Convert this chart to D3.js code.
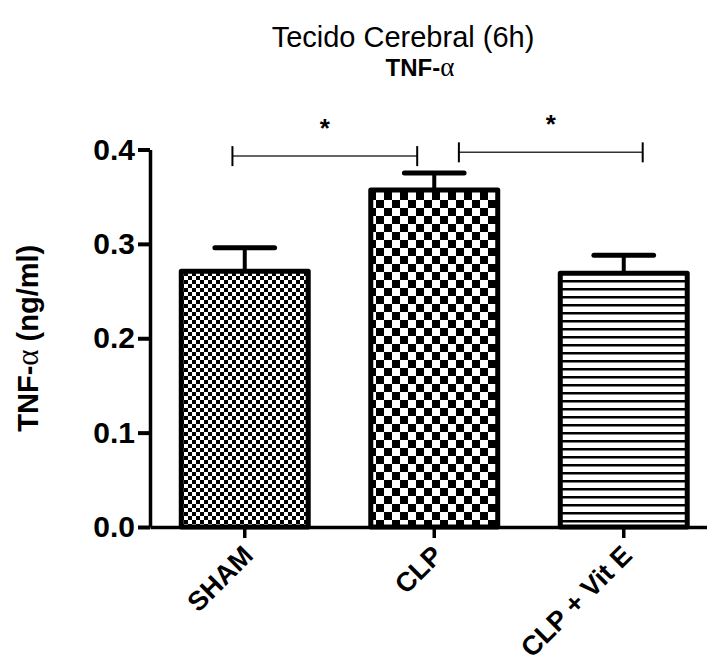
<!DOCTYPE html>
<html>
<head>
<meta charset="utf-8">
<script src="https://cdn.jsdelivr.net/npm/d3@7/dist/d3.min.js"></script>
<style>
  html, body { margin: 0; padding: 0; background: #fff; }
  text { font-family: "Liberation Sans", Arial, Helvetica, sans-serif; fill: #000; }
</style>
</head>
<body>
<svg id="chart" width="707" height="670"></svg>
<script>
// ---- data ----
const categories = ["SHAM", "CLP", "CLP + Vit E"];
const means = [0.271, 0.357, 0.269];
const sems = [0.025, 0.018, 0.019];
const patterns = ["checkSmall", "checkLarge", "hlines"];
const yTicks = [0.0, 0.1, 0.2, 0.3, 0.4];
const comparisons = [
  { a: 0, b: 1, y: 0.393, label: "*" },
  { a: 1, b: 2, y: 0.397, label: "*" }
];
const titleText = "Tecido Cerebral (6h)";
const subtitleText = "TNF-";
const yLabelText = "TNF-";

// ---- layout ----
const svg = d3.select("#chart");
const plotLeft = 150, plotBottom = 527, plotTop = 149.5;

const x = d3.scaleBand()
  .domain(categories)
  .range([plotLeft, plotLeft + 3 * 189.5])
  .paddingInner(0.33)
  .paddingOuter(0.165);

const y = d3.scaleLinear().domain([0, 0.4]).range([plotBottom, plotTop]);

// ---- patterns ----
const defs = svg.append("defs");
const p1 = defs.append("pattern").attr("id", "checkSmall")
  .attr("patternUnits", "userSpaceOnUse").attr("width", 8).attr("height", 8);
p1.append("rect").attr("width", 8).attr("height", 8).attr("fill", "#fff");
p1.append("rect").attr("width", 4).attr("height", 4).attr("fill", "#000");
p1.append("rect").attr("x", 4).attr("y", 4).attr("width", 4).attr("height", 4).attr("fill", "#000");

const p2 = defs.append("pattern").attr("id", "checkLarge")
  .attr("patternUnits", "userSpaceOnUse").attr("width", 16).attr("height", 16);
p2.append("rect").attr("width", 16).attr("height", 16).attr("fill", "#fff");
p2.append("rect").attr("width", 8).attr("height", 8).attr("fill", "#000");
p2.append("rect").attr("x", 8).attr("y", 8).attr("width", 8).attr("height", 8).attr("fill", "#000");

const p3 = defs.append("pattern").attr("id", "hlines")
  .attr("patternUnits", "userSpaceOnUse").attr("width", 8).attr("height", 8);
p3.append("rect").attr("width", 8).attr("height", 8).attr("fill", "#fff");
p3.append("rect").attr("y", 0).attr("width", 8).attr("height", 2.5).attr("fill", "#000");

// ---- bars ----
const data = categories.map((c, i) => ({ c, m: means[i], s: sems[i], p: patterns[i] }));

svg.append("g").selectAll("rect").data(data).join("rect")
  .attr("x", d => x(d.c))
  .attr("width", x.bandwidth())
  .attr("y", d => y(d.m))
  .attr("height", d => y(0) - y(d.m))
  .attr("fill", d => `url(#${d.p})`)
  .attr("stroke", "#000")
  .attr("stroke-width", 5)
  .attr("stroke-linejoin", "round");

// ---- error bars (upper only) ----
const eb = svg.append("g");
eb.selectAll("line.stem").data(data).join("line").attr("class", "stem")
  .attr("x1", d => x(d.c) + x.bandwidth() / 2)
  .attr("x2", d => x(d.c) + x.bandwidth() / 2)
  .attr("y1", d => y(d.m))
  .attr("y2", d => y(d.m + d.s))
  .attr("stroke", "#000").attr("stroke-width", 4);
eb.selectAll("line.cap").data(data).join("line").attr("class", "cap")
  .attr("x1", d => x(d.c) + x.bandwidth() / 2 - x.bandwidth() * 0.235)
  .attr("x2", d => x(d.c) + x.bandwidth() / 2 + x.bandwidth() * 0.235)
  .attr("y1", d => y(d.m + d.s))
  .attr("y2", d => y(d.m + d.s))
  .attr("stroke", "#000").attr("stroke-width", 5).attr("stroke-linecap", "round");

// ---- axes ----
const yAxis = svg.append("g")
  .attr("transform", `translate(${plotLeft},0)`)
  .call(d3.axisLeft(y).tickValues(yTicks).tickFormat(d3.format(".1f")).tickSize(12).tickSizeOuter(0).tickPadding(3));
yAxis.select(".domain").attr("stroke", "#000").attr("stroke-width", 3.5);
yAxis.selectAll(".tick line").attr("stroke", "#000").attr("stroke-width", 4);
yAxis.selectAll(".tick text")
  .style("font-family", "'Liberation Sans', Arial, sans-serif")
  .style("font-size", "30px").style("font-weight", "bold").attr("fill", "#000");

const xAxis = svg.append("g")
  .attr("transform", `translate(0,${plotBottom})`)
  .call(d3.axisBottom(x).tickSize(11).tickSizeOuter(0).tickPadding(0));
xAxis.select(".domain").attr("stroke", "#000").attr("stroke-width", 3.5);
xAxis.selectAll(".tick line").attr("stroke", "#000").attr("stroke-width", 3.5);
xAxis.selectAll(".tick text")
  .attr("y", 0).attr("dy", 0)
  .attr("text-anchor", "end")
  .attr("transform", "translate(10,30) rotate(-45)")
  .style("font-family", "'Liberation Sans', Arial, sans-serif")
  .style("font-size", "27px").style("font-weight", "bold").attr("fill", "#000");

// ---- significance brackets ----
const bx = (i) => x(categories[i]) + x.bandwidth() / 2;
const br = svg.append("g");
const bracketOffsets = [[-0.065, -0.09], [0.13, 0.10]];
comparisons.forEach((c, k) => {
  const x1 = bx(c.a) + bracketOffsets[k][0] * x.step();
  const x2 = bx(c.b) + bracketOffsets[k][1] * x.step();
  const yy = y(c.y);
  br.append("line").attr("x1", x1).attr("x2", x2).attr("y1", yy).attr("y2", yy)
    .attr("stroke", "#333").attr("stroke-width", 1.5);
  [x1, x2].forEach(xx => br.append("line")
    .attr("x1", xx).attr("x2", xx).attr("y1", yy - 10).attr("y2", yy + 10)
    .attr("stroke", "#000").attr("stroke-width", 2));
  br.append("text").attr("x", (x1 + x2) / 2).attr("y", yy - 19)
    .attr("text-anchor", "middle")
    .style("font-size", "26px").style("font-weight", "bold")
    .text(c.label);
});

// ---- titles ----
svg.append("text").attr("x", 403).attr("y", 47).attr("text-anchor", "middle")
  .style("font-size", "29px").text(titleText);
const st = svg.append("text").attr("x", 420).attr("y", 76).attr("text-anchor", "middle")
  .style("font-size", "24px").style("font-weight", "bold");
st.append("tspan").text(subtitleText);
st.append("tspan").style("font-family", "'Liberation Serif', 'Times New Roman', serif")
  .style("font-weight", "normal").style("font-size", "27px").text("α");

const yl = svg.append("text")
  .attr("transform", `translate(38,${(plotTop + plotBottom) / 2}) rotate(-90)`)
  .attr("text-anchor", "middle")
  .style("font-size", "29px").style("font-weight", "bold");
yl.append("tspan").text(yLabelText);
yl.append("tspan").style("font-family", "'Liberation Serif', 'Times New Roman', serif")
  .style("font-weight", "normal").style("font-size", "31px").text("α");
yl.append("tspan").text(" (ng/ml)");
</script>
</body>
</html>
